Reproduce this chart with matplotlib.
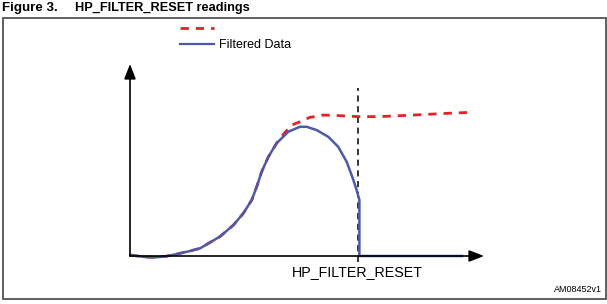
import matplotlib.pyplot as plt
from matplotlib.patches import Rectangle

# chart units: x = time (0..100), y = signal (0..100)
filt_x = [0.2, 4, 7.1, 10, 13.2, 16.5, 19.8, 25.4, 29.2, 32.0, 34.4, 35.8, 37.2, 39.1, 41.4,
          44.7, 48.0, 49.9, 52.7, 56.0, 58.8, 61.2, 63.1, 64.0, 64.8, 64.8, 93.8]
filt_y = [0.5, -0.5, -0.7, -0.2, 1.0, 2.4, 4.0, 10.1, 16.1, 22.2, 29.2, 36.1, 43.9, 51.7, 58.7,
          64.7, 67.3, 67.3, 65.6, 62.1, 56.9, 49.1, 39.6, 34.4, 29.2, 0.0, 0.0]
raw_x = [0.2, 4, 7.1, 10, 13.2, 16.5, 19.8, 25.4, 29.2, 32.0, 34.4, 35.8, 37.2, 39.1, 41.4,
         43.6, 45.7, 48.0, 50.8, 54.6, 59.3, 64.0, 70.6, 79.9, 89.5, 96.0]
raw_y = [0.5, -0.5, -0.7, -0.2, 1.0, 2.4, 4.0, 10.1, 16.1, 22.2, 29.2, 36.1, 43.9, 51.7, 58.7,
         64.0, 68.2, 69.9, 72.2, 73.4, 73.1, 72.6, 72.6, 73.4, 74.3, 74.8]
reset_x = 64.3

W, H = 607, 304
fig = plt.figure(figsize=(W / 100, H / 100), dpi=100)

# page layer in pixel coordinates
bg = fig.add_axes([0, 0, 1, 1])
bg.set_xlim(0, W)
bg.set_ylim(H, 0)
bg.axis('off')
bg.add_patch(Rectangle((2.5, 18), 603, 281, fill=False, edgecolor='#444444', lw=1.2))
bg.text(2, 8.5, 'Figure 3.', fontsize=9.6, fontweight='bold', va='center', ha='left',
        family='Liberation Sans')
bg.text(75, 8.5, 'HP_FILTER_RESET readings', fontsize=9.2, fontweight='bold', va='center', ha='left',
        family='Liberation Sans')
bg.plot([180, 214], [28, 28], color='#e8202a', lw=2, ls=(0, (3, 2.5)))
bg.plot([180, 214], [44, 44], color='#4a5aa8', lw=1.6)
bg.text(219, 44.5, 'Filtered Data', fontsize=9, va='center', ha='left', family='Liberation Sans')
bg.text(357.5, 272, 'HP_FILTER_RESET', fontsize=10.3, va='center', ha='center', family='Liberation Sans')
bg.text(602, 290, 'AM08452v1', fontsize=6.5, va='center', ha='right', family='Liberation Sans')

# chart axes: origin at pixel (130,256), arrow tips at x=484, y=64
x0, y0, x1, y1 = 130, 256, 484, 64
ax = fig.add_axes([x0 / W, 1 - y0 / H, (x1 - x0) / W, (y0 - y1) / H])
ax.set_xlim(0, 100)
ax.set_ylim(0, 100)
ax.axis('off')
ax.patch.set_alpha(0)

arrow = dict(arrowstyle='-|>,head_length=0.9,head_width=0.35', color='black', lw=1.2,
             shrinkA=0, shrinkB=0)
ax.annotate('', xy=(100, 0), xytext=(0, 0), arrowprops=arrow, annotation_clip=False)
ax.annotate('', xy=(0, 100), xytext=(0, 0), arrowprops=arrow, annotation_clip=False)

ax.plot([reset_x, reset_x], [-3, 87.5], color='black', lw=1.1, ls=(0, (4, 3)), clip_on=False)
ax.plot(raw_x, raw_y, color='#e8202a', lw=2, ls=(0, (3, 2.5)), clip_on=False)
ax.plot(filt_x, filt_y, color='#4a5aa8', lw=1.8, clip_on=False)

fig.savefig('out.png', dpi=100)
